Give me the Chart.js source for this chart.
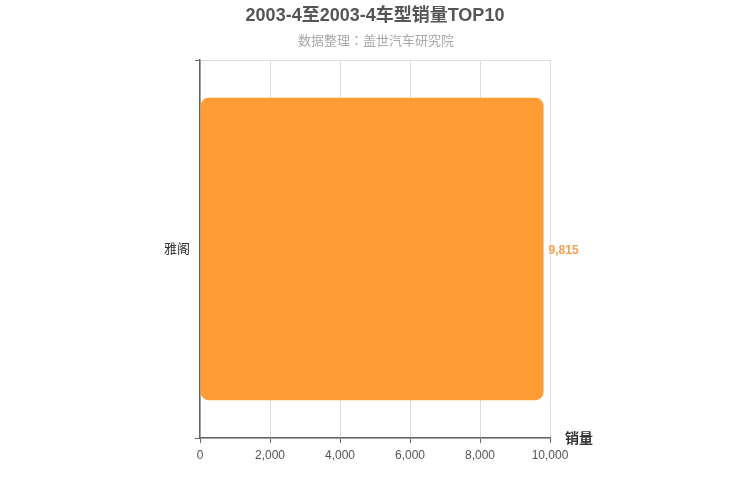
<!DOCTYPE html>
<html>
<head>
<meta charset="utf-8">
<script src="https://cdn.jsdelivr.net/npm/chart.js@4"></script>
<style>
html,body{margin:0;padding:0;background:#fff;}
#wrap{width:750px;height:500px;}
</style>
</head>
<body>
<div id="wrap"><canvas id="c" width="750" height="500"></canvas></div>
<script>
const titleText = '2003-4至2003-4车型销量TOP10';
const subtitleText = '数据整理：盖世汽车研究院';
const categories = ['雅阁'];
const salesValues = [9815];
const xAxisName = '销量';
const xMin = 0, xMax = 10000, xStep = 2000;

const FONT = '"Liberation Sans", Arial, "Noto Sans CJK SC", sans-serif';
const FONT_SUB = '"Liberation Sans", Arial, "Noto Sans CJK JP", sans-serif';

const extras = {
  id: 'extras',
  afterDraw(chart) {
    const ctx = chart.ctx;
    const W = chart.width;
    ctx.save();
    ctx.textAlign = 'center';
    ctx.textBaseline = 'middle';
    ctx.font = 'bold 18px ' + FONT;
    ctx.fillStyle = '#555';
    ctx.fillText(titleText, W / 2, 16);
    ctx.font = '13px ' + FONT_SUB;
    ctx.fillStyle = '#aaa';
    ctx.fillText(subtitleText, W / 2 + 1, 41);
    ctx.restore();
  },
  afterDatasetsDraw(chart) {
    const ctx = chart.ctx;
    const meta = chart.getDatasetMeta(0);
    ctx.save();
    ctx.font = 'bold 12px ' + FONT;
    ctx.fillStyle = '#f5a04f';
    ctx.textAlign = 'left';
    ctx.textBaseline = 'middle';
    meta.data.forEach((bar, i) => {
      ctx.fillText(salesValues[i].toLocaleString('en-US'), bar.x + 5, bar.y + 2);
    });
    const ca = chart.chartArea;
    ctx.font = 'bold 14px ' + FONT;
    ctx.fillStyle = '#333';
    ctx.textBaseline = 'middle';
    ctx.fillText(xAxisName, ca.right + 15, ca.bottom + 1);
    ctx.restore();
  }
};

new Chart(document.getElementById('c'), {
  type: 'bar',
  data: {
    labels: categories,
    datasets: [{
      data: salesValues,
      backgroundColor: '#ff9c34',
      borderRadius: 8,
      borderSkipped: false,
      barPercentage: 0.8,
      categoryPercentage: 1
    }]
  },
  options: {
    indexAxis: 'y',
    responsive: false,
    animation: false,
    devicePixelRatio: 1,
    layout: { padding: { left: 0, right: 200, top: 60, bottom: 0 } },
    plugins: {
      legend: { display: false },
      tooltip: { enabled: false },
      title: { display: false },
      subtitle: { display: false }
    },
    scales: {
      x: {
        min: xMin, max: xMax,
        ticks: {
          stepSize: xStep, color: '#555', padding: 5,
          font: { family: FONT, size: 12 },
          callback: v => v.toLocaleString('en-US'),
          maxRotation: 0
        },
        grid: { color: '#ddd', tickColor: '#666', tickLength: 5 },
        border: { color: '#666', width: 1.5 },
        afterFit(s) { s.height = 62; }
      },
      y: {
        offset: true,
        ticks: { color: '#333', padding: 5, font: { family: FONT, size: 13 } },
        grid: { color: '#ddd', tickColor: '#666', tickLength: 5, offset: true },
        border: { color: '#666', width: 1.5 },
        afterFit(s) { s.width = 200; }
      }
    }
  },
  plugins: [extras]
});
</script>
</body>
</html>
